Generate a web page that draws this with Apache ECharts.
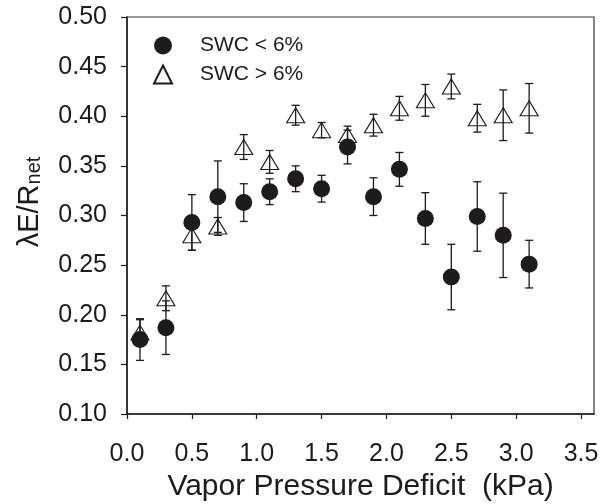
<!DOCTYPE html>
<html lang="en">
<head>
    <meta charset="UTF-8">
    <title>λE/Rnet vs VPD</title>
    <script src="https://cdn.jsdelivr.net/npm/echarts@6/dist/echarts.min.js"></script>
</head>
<body style="margin:0">
<div id="content" style="width:602px;height:504px"></div>
<script>
    // vapor pressure deficit bins (kPa)
    var vpd = [0.1, 0.3, 0.5, 0.7, 0.9, 1.1, 1.3, 1.5, 1.7, 1.9, 2.1, 2.3, 2.5, 2.7, 2.9, 3.1];
    // SWC < 6% : mean and error
    var lowMean = [0.175, 0.187, 0.293, 0.319, 0.313, 0.324, 0.337, 0.327, 0.369, 0.319, 0.3465, 0.297, 0.238, 0.299, 0.280, 0.251];
    var lowErr = [0.021, 0.027, 0.028, 0.036, 0.019, 0.013, 0.013, 0.0135, 0.017, 0.019, 0.017, 0.026, 0.033, 0.035, 0.0425, 0.024];
    // SWC > 6% : mean and error
    var highMean = [0.182, 0.2166, 0.280, 0.289, 0.369, 0.354, 0.401, 0.386, 0.381, 0.391, 0.408, 0.416, 0.430, 0.398, 0.401, 0.408];
    var highErr = [0.013, 0.0125, 0.015, 0.009, 0.0125, 0.0115, 0.010, 0.0077, 0.009, 0.011, 0.012, 0.016, 0.0125, 0.014, 0.0255, 0.025];
    var xTicks = [0, 0.5, 1.0, 1.5, 2.0, 2.5, 3.0, 3.5];
    var seriesNames = ['SWC < 6%', 'SWC > 6%'];

    var ink = '#1d1b1c';
    var font = 'Liberation Sans, Arial, Helvetica, sans-serif';

    var myChart = echarts.init(document.getElementById('content'));

    function points(mean) {
        return vpd.map(function (x, i) { return [x, mean[i]]; });
    }
    function bars(mean, err) {
        return vpd.map(function (x, i) { return [x, mean[i] - err[i], mean[i] + err[i]]; });
    }
    // vertical error bar with caps
    function renderBar(params, api) {
        var lo = api.coord([api.value(0), api.value(1)]);
        var hi = api.coord([api.value(0), api.value(2)]);
        var w = 4;
        var st = {stroke: ink, lineWidth: 1.3};
        return {
            type: 'group',
            children: [
                {type: 'line', shape: {x1: lo[0], y1: lo[1], x2: hi[0], y2: hi[1]}, style: st},
                {type: 'line', shape: {x1: lo[0] - w, y1: lo[1], x2: lo[0] + w, y2: lo[1]}, style: st},
                {type: 'line', shape: {x1: hi[0] - w, y1: hi[1], x2: hi[0] + w, y2: hi[1]}, style: st}
            ]
        };
    }

    var option = {
        animation: false,
        grid: {
            left: 127, top: 17, right: 8, bottom: 90,
            outerBoundsMode: 'none',
            show: true, borderColor: '#333', borderWidth: 1.2
        },
        legend: {
            orient: 'vertical',
            left: 148,
            top: 30,
            itemWidth: 18,
            itemHeight: 18,
            itemGap: 8,
            data: seriesNames,
            textStyle: {fontFamily: font, fontSize: 21, color: ink, lineHeight: 18, padding: [0, 0, 0, 23]}
        },
        xAxis: {
            type: 'value',
            min: 0,
            max: 3.6,
            interval: 0.5,
            name: 'Vapor Pressure Deficit  (kPa)',
            nameLocation: 'middle',
            nameGap: 49,
            nameTextStyle: {fontFamily: font, fontSize: 30, color: ink},
            splitLine: {show: false},
            axisLine: {lineStyle: {color: ink, width: 1.5}},
            axisTick: {customValues: xTicks, length: 5, lineStyle: {color: ink, width: 1.2}},
            axisLabel: {
                customValues: xTicks,
                margin: 28,
                fontFamily: font, fontSize: 25, color: ink,
                formatter: function (v) { return v.toFixed(1); }
            }
        },
        yAxis: {
            type: 'value',
            min: 0.1,
            max: 0.5,
            interval: 0.05,
            splitLine: {show: false},
            axisLine: {lineStyle: {color: ink, width: 1.5}},
            axisTick: {length: 6, lineStyle: {color: ink, width: 1.2}},
            axisLabel: {
                margin: 20,
                fontFamily: font, fontSize: 25, color: ink,
                formatter: function (v) { return v.toFixed(2); }
            }
        },
        graphic: [{
            type: 'text',
            x: 28,
            y: 202,
            rotation: Math.PI / 2,
            style: {
                text: '{a|λE/R}{b|net}',
                align: 'center',
                verticalAlign: 'middle',
                fill: ink,
                rich: {
                    a: {fontFamily: font, fontSize: 29, lineHeight: 32, verticalAlign: 'bottom', fill: ink},
                    b: {fontFamily: font, fontSize: 20, lineHeight: 32, verticalAlign: 'bottom', fill: ink}
                }
            }
        }],
        series: [
            {
                type: 'custom',
                name: 'errHigh',
                z: 1,
                renderItem: renderBar,
                data: bars(highMean, highErr)
            },
            {
                type: 'scatter',
                name: seriesNames[1],
                z: 2,
                symbol: 'triangle',
                symbolSize: [18, 15],
                itemStyle: {color: 'rgba(0,0,0,0)', borderColor: ink, borderWidth: 1.1, opacity: 1},
                data: points(highMean)
            },
            {
                type: 'custom',
                name: 'errLow',
                z: 3,
                renderItem: renderBar,
                data: bars(lowMean, lowErr)
            },
            {
                type: 'scatter',
                name: seriesNames[0],
                z: 4,
                symbol: 'circle',
                symbolSize: 17,
                itemStyle: {color: ink, opacity: 1},
                data: points(lowMean)
            }
        ]
    };
    myChart.setOption(option);
</script>
</body>
</html>
